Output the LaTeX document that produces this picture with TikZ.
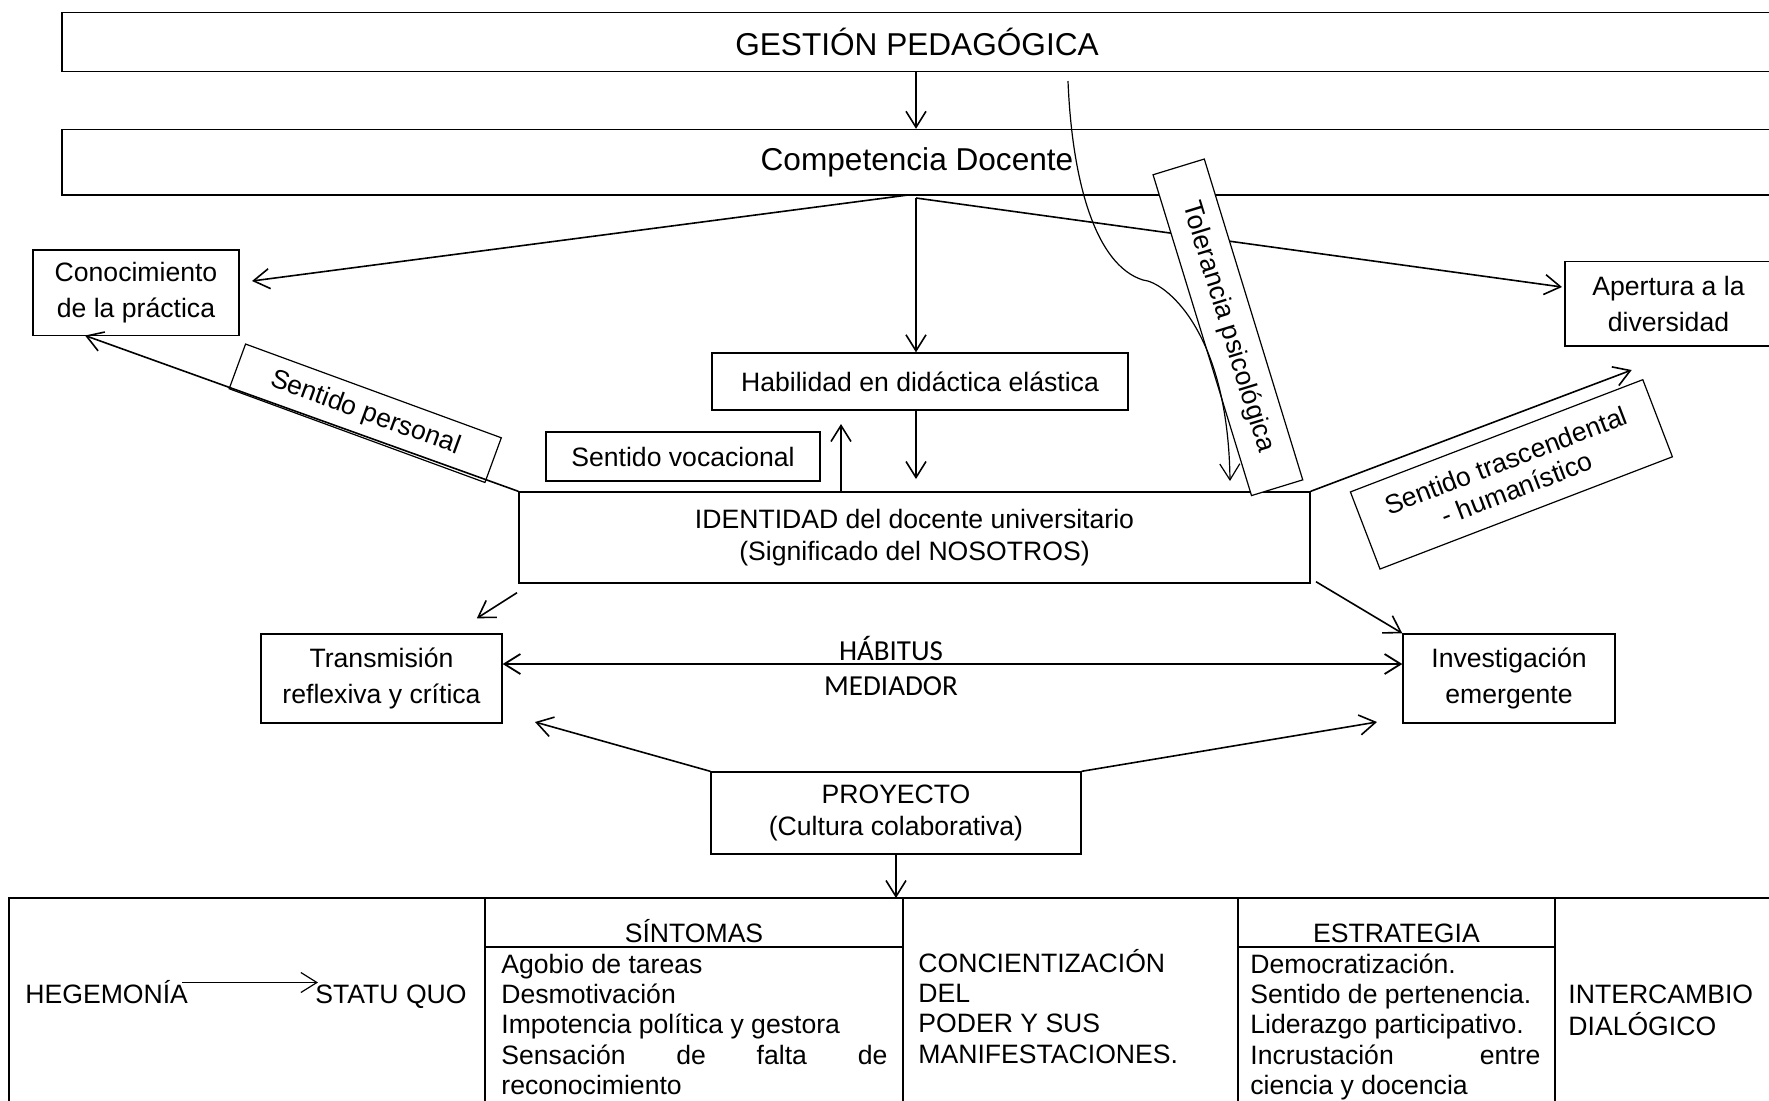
\documentclass[tikz,border=0pt]{standalone}
\usepackage{fontspec}
\setmainfont{Liberation Sans}
\newfontfamily\calibfont{Carlito}
\usetikzlibrary{arrows.meta}
\begin{document}
\begin{tikzpicture}[x=0.5pt,y=-0.5pt,
  box/.style={draw,line width=0.7pt,inner sep=0pt,align=center,font=\fontsize{13.3}{18}\selectfont},
  bigbox/.style={box,font=\fontsize{15.8}{18}\selectfont},
  rbox/.style={draw,fill=white,line width=0.6pt,inner sep=0pt,align=center,font=\fontsize{13.3}{15}\selectfont},
  conn/.style={line width=0.8pt,-{Straight Barb[length=8pt,width=10pt]}},
  dconn/.style={line width=0.9pt,{Straight Barb[length=8pt,width=10pt]}-{Straight Barb[length=8pt,width=10pt]}},
  thin/.style={line width=0.6pt,-{Straight Barb[length=8pt,width=10pt]}},
  txt/.style={inner sep=0pt,font=\fontsize{13.3}{15.2}\selectfont},
  cal/.style={inner sep=0pt,font=\calibfont\fontsize{14.5}{16}\selectfont},
  tbl/.style={line width=1pt}]
\useasboundingbox (0,0) rectangle (1769,1100);

% ---- boxes
\node[bigbox, minimum width=855pt, minimum height=29.5pt] (gest) at (917,42) {GESTIÓN PEDAGÓGICA};
\node[bigbox, minimum width=855pt, minimum height=32.75pt] (comp) at (917,162.25) {Competencia Docente};
\node[box, minimum width=103pt, minimum height=42.75pt] (conoc) at (136,292.75) {Conocimiento\\de la práctica};
\node[box, minimum width=103.5pt, minimum height=42.25pt] (aper) at (1668.5,303.75) {Apertura a la\\diversidad};
\node[box, minimum width=208pt, minimum height=28.5pt] (habil) at (920,381.5) {Habilidad en didáctica elástica};
\node[box, minimum width=137pt, minimum height=24.5pt] (voc) at (683,456.5) {Sentido vocacional};
\node[box, minimum width=395.5pt, minimum height=45.5pt, font=\fontsize{13.3}{16}\selectfont] (ident) at (914.5,537.5) {IDENTIDAD del docente universitario\\(Significado del NOSOTROS)};
\node[box, minimum width=120.5pt, minimum height=44.5pt] (trans) at (381.5,678.5) {Transmisión\\reflexiva y crítica};
\node[box, minimum width=106pt, minimum height=44.5pt] (inv) at (1509,678.5) {Investigación\\emergente};
\node[box, minimum width=185pt, minimum height=41pt, font=\fontsize{13.3}{16}\selectfont] (proj) at (896,813) {PROYECTO\\(Cultura colaborativa)};

% ---- coordinates
\coordinate (cb1) at (908,195);
\coordinate (cb) at (916,198);
\coordinate (conA) at (252,281);
\coordinate (aperA) at (1562,287);
\coordinate (habA) at (916,479);
\coordinate (vocS) at (841,492);
\coordinate (vocA) at (841,424);
\coordinate (tolS) at (1068,81);
\coordinate (tolM) at (1143,280);
\coordinate (tolE) at (1230,481);
\coordinate (perA) at (85,335.5);
\coordinate (traA) at (1631.7,370);
\coordinate (idBL) at (517,592.7);
\coordinate (trA) at (476.8,618.3);
\coordinate (idBR) at (1316,581.7);
\coordinate (pLA) at (535,722);
\coordinate (pRA) at (1377,722);
\coordinate (tabtop) at (896,898);
\coordinate (hgS) at (182,982.5);
\coordinate (hgE) at (318,982.5);

% ---- connectors
\draw[conn] (gest.south -| cb) -- (comp.north -| cb);
\draw[conn] (cb1) -- (conA);
\draw[conn] (cb) -- (cb |- habil.north);
\draw[conn] (habil.south -| cb) -- (habA);
\draw[conn] (vocS) -- (vocA);
\draw[conn] (cb) -- (aperA);
\node[rbox, rotate=-72.94, minimum width=167.8pt, minimum height=26.8pt] (tol) at (1227.9,327.3) {Tolerancia psicológica};
\draw[thin] (tolS) .. controls (1072,180) and (1095,265) .. (tolM) .. controls (1165,282) and (1228,330) .. (tolE);

\node[rbox, rotate=-20.13, minimum width=136.2pt, minimum height=23.8pt] (pers) at (365.25,413.25) {Sentido personal};
\draw[conn] (ident.north west) -- (perA);

\node[rbox, rotate=21, minimum width=156.6pt, minimum height=41.3pt] (trasc) at (1511.4,474.35) {Sentido trascendental\\- humanístico};
\draw[conn] (ident.north east) -- (traA);

\draw[conn] (idBL) -- (trA);
\draw[conn] (idBR) -- (inv.north west);
\draw[dconn] ([yshift=7.25pt]trans.east) -- ([yshift=7.25pt]inv.west);
\node[cal, anchor=base] (habitus) at (891,660) {HÁBITUS};
\node[cal, anchor=base] (mediador) at (891,695) {MEDIADOR};
\draw[conn] (proj.north west) -- (pLA);
\draw[conn] (proj.north east) -- (pRA);
\draw[conn] (proj.south) -- (tabtop);

% ---- table
\draw[tbl] (9,1110) -- (9,898) -- (1780,898);
\draw[tbl] (485,898) -- (485,1110);
\draw[tbl] (903,898) -- (903,1110);
\draw[tbl] (1238,898) -- (1238,1110);
\draw[tbl] (1555,898) -- (1555,1110);
\draw[tbl] (485,947) -- (903,947);
\draw[tbl] (1238,947) -- (1555,947);

\node[txt, anchor=base west] (hegem) at (25,1003.3) {HEGEMONÍA};
\node[txt, anchor=base west] (statu) at (315,1003.3) {STATU QUO};
\draw[thin] (hgS) -- (hgE);
\node[txt, anchor=base] (sint) at (694,942.5) {SÍNTOMAS};
\node[txt, anchor=base west] (sintl) at (501,973) {\begin{tabular}[t]{@{}l@{}}Agobio de tareas\\Desmotivación\\Impotencia política y gestora\\\makebox[193pt][s]{Sensación de falta de}\\reconocimiento\end{tabular}};
\node[txt, anchor=base west] (conc) at (918,972) {\begin{tabular}[t]{@{}l@{}}CONCIENTIZACIÓN\\DEL\\PODER Y SUS\\MANIFESTACIONES.\end{tabular}};
\node[txt, anchor=base] (estr) at (1396.5,942.5) {ESTRATEGIA};
\node[txt, anchor=base west] (estrl) at (1250,973) {\begin{tabular}[t]{@{}l@{}}Democratización.\\Sentido de pertenencia.\\Liderazgo participativo.\\\makebox[145pt][s]{Incrustación entre}\\ciencia y docencia\end{tabular}};
\node[txt, anchor=base west] (inter) at (1568,1003.5) {\begin{tabular}[t]{@{}l@{}}INTERCAMBIO\\DIALÓGICO\end{tabular}};
\end{tikzpicture}
\end{document}
